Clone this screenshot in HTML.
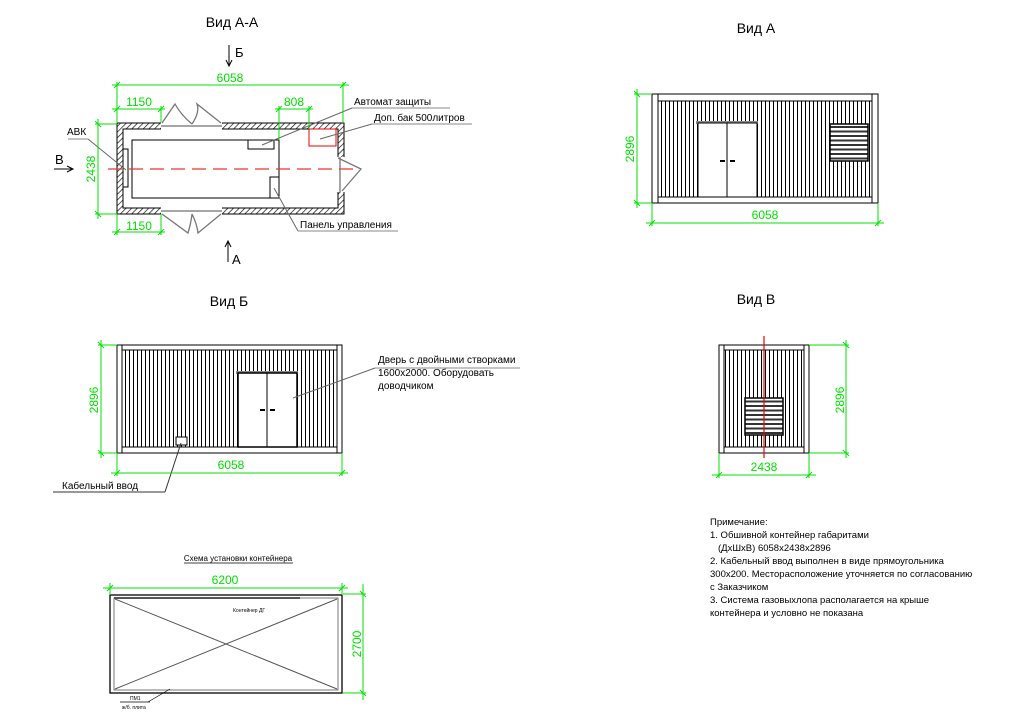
<!DOCTYPE html>
<html><head><meta charset="utf-8"><style>
html,body{margin:0;padding:0;background:#fff}
svg{display:block}
text{font-family:"Liberation Sans","DejaVu Sans",sans-serif}
.g{stroke:#00e000;stroke-width:1;fill:none}
.gt{fill:#00e000;font-size:12px}
.k{stroke:#000;fill:none;stroke-width:1}
.lb{font-size:10px;fill:#000}
</style></head><body>
<svg width="1015" height="720" viewBox="0 0 1015 720" xmlns="http://www.w3.org/2000/svg">
<defs>
<pattern id="vl" width="4" height="10" patternUnits="userSpaceOnUse"><line x1="1.5" y1="0" x2="1.5" y2="10" stroke="#000" stroke-width="1"/></pattern>
<pattern id="hat" width="4" height="4" patternUnits="userSpaceOnUse" patternTransform="rotate(45)"><line x1="0" y1="0" x2="0" y2="4" stroke="#000" stroke-width="1.3"/></pattern>
<pattern id="lv" width="10" height="4.5" patternUnits="userSpaceOnUse"><rect width="10" height="4.5" fill="#fff"/><rect width="10" height="2" fill="#333"/></pattern>
</defs>

<!-- ===== Вид А-А ===== -->
<text x="232" y="27" font-size="14" text-anchor="middle">Вид А-А</text>
<line x1="229" y1="45" x2="229" y2="65" class="k"/><path d="M226,60 L229,66 L232,60" class="k"/>
<text x="235" y="57" font-size="13">Б</text>
<line x1="228" y1="242" x2="228" y2="262" class="k"/><path d="M225,247 L228,241 L231,247" class="k"/>
<text x="232" y="264" font-size="13">А</text>
<text x="55" y="164" font-size="13">В</text>
<line x1="54" y1="169" x2="72" y2="169" class="k"/><path d="M67,166 L73,169 L67,172" class="k"/>

<path d="M117,123 H344 V214 H117 Z M123,129 V208 H338 V129 Z" fill="url(#hat)" fill-rule="evenodd" stroke="#000"/>
<rect x="161" y="121" width="61" height="9" fill="#fff"/>
<rect x="161" y="207" width="61" height="9" fill="#fff"/>
<rect x="337" y="157" width="9" height="35" fill="#fff"/>
<line x1="161" y1="126" x2="222" y2="126" stroke="#888" stroke-width="1.5"/>
<line x1="161" y1="211" x2="222" y2="211" stroke="#888" stroke-width="1.5"/>
<line x1="340" y1="157" x2="340" y2="192" stroke="#888" stroke-width="1.5"/>
<path d="M162,123 L175,104 Q181,115 192,124 M192,124 Q200,112 197,104 L221,123" stroke="#777" stroke-width="1.3" fill="none"/>
<path d="M162,214 L188,233 Q191,223 192,214 M192,214 Q197,224 198,233 L221,214" stroke="#777" stroke-width="1.3" fill="none"/>
<path d="M338,158 L361,169 L342,191" stroke="#777" stroke-width="1.3" fill="none"/>
<rect x="132" y="140" width="147" height="58" class="k" stroke-width="1.3"/>
<rect x="248" y="140" width="26" height="9" class="k"/>
<rect x="270" y="177" width="9" height="21" class="k"/>
<rect x="309" y="129" width="27" height="17" stroke="#e00" fill="none"/>
<rect x="123" y="149" width="5" height="38" class="k"/>
<line x1="108" y1="169" x2="353" y2="169" stroke="#e33" stroke-width="1.2" stroke-dasharray="14,7"/>
<line x1="68" y1="139" x2="88" y2="139" stroke="#888"/><line x1="88" y1="139" x2="126" y2="170" stroke="#666"/>
<text x="67" y="135" class="lb">АВК</text>
<line x1="262" y1="145" x2="352" y2="108" stroke="#666"/><line x1="352" y1="108" x2="450" y2="108" stroke="#888"/>
<text x="354" y="105" class="lb">Автомат защиты</text>
<line x1="320" y1="139" x2="372" y2="124" stroke="#666"/><line x1="372" y1="124" x2="472" y2="124" stroke="#888"/>
<text x="374" y="121" class="lb">Доп. бак 500литров</text>
<line x1="274" y1="188" x2="298" y2="231" stroke="#666"/><line x1="298" y1="231" x2="398" y2="231" stroke="#888"/>
<text x="300" y="228" class="lb">Панель управления</text>
<g class="g">
<line x1="112" y1="85" x2="349" y2="85"/><line x1="117" y1="82" x2="117" y2="123"/><line x1="343" y1="82" x2="343" y2="123"/>
<line x1="114" y1="88" x2="120" y2="82"/><line x1="340" y1="88" x2="346" y2="82"/>
<line x1="112" y1="109" x2="165" y2="109"/><line x1="161" y1="106" x2="161" y2="122"/>
<line x1="114" y1="112" x2="120" y2="106"/><line x1="158" y1="112" x2="164" y2="106"/>
<line x1="275" y1="109" x2="313" y2="109"/><line x1="279" y1="106" x2="279" y2="140"/><line x1="309" y1="106" x2="309" y2="129"/>
<line x1="276" y1="112" x2="282" y2="106"/><line x1="306" y1="112" x2="312" y2="106"/>
<line x1="98" y1="119" x2="98" y2="219"/><line x1="95" y1="124" x2="117" y2="124"/><line x1="95" y1="214" x2="117" y2="214"/>
<line x1="95" y1="121" x2="101" y2="127"/><line x1="95" y1="211" x2="101" y2="217"/>
<line x1="112" y1="232" x2="165" y2="232"/><line x1="117" y1="214" x2="117" y2="235"/><line x1="161" y1="214" x2="161" y2="235"/>
<line x1="114" y1="235" x2="120" y2="229"/><line x1="158" y1="235" x2="164" y2="229"/>
</g>
<text x="230" y="82" class="gt" text-anchor="middle">6058</text>
<text x="139" y="106" class="gt" text-anchor="middle">1150</text>
<text x="294" y="106" class="gt" text-anchor="middle">808</text>
<text x="139" y="230" class="gt" text-anchor="middle">1150</text>
<text transform="translate(95,169) rotate(-90)" class="gt" text-anchor="middle">2438</text>

<!-- ===== Вид А ===== -->
<text x="756" y="33" font-size="14" text-anchor="middle">Вид А</text>
<rect x="652" y="94" width="226" height="109" fill="url(#vl)" stroke="#000"/>
<rect x="652" y="94" width="226" height="7" fill="#fff" stroke="#000"/>
<rect x="652" y="197" width="226" height="6" fill="#fff" stroke="#000"/>
<rect x="652" y="94" width="6" height="109" fill="#fff" stroke="#000"/>
<rect x="872" y="94" width="6" height="109" fill="#fff" stroke="#000"/>
<rect x="696" y="121" width="62" height="3" fill="#888"/>
<rect x="698" y="123" width="59" height="74" fill="#fff" stroke="#000"/>
<line x1="727" y1="123" x2="727" y2="197" class="k"/>
<rect x="720" y="160" width="5" height="2" fill="#000"/><rect x="730" y="160" width="5" height="2" fill="#000"/>
<rect x="830" y="124" width="38" height="37" fill="url(#lv)" stroke="#000" stroke-width="1.5"/>
<g class="g">
<line x1="637" y1="89" x2="637" y2="208"/><line x1="634" y1="94" x2="652" y2="94"/><line x1="634" y1="203" x2="652" y2="203"/>
<line x1="634" y1="91" x2="640" y2="97"/><line x1="634" y1="200" x2="640" y2="206"/>
<line x1="646" y1="223" x2="884" y2="223"/><line x1="652" y1="203" x2="652" y2="226"/><line x1="878" y1="203" x2="878" y2="226"/>
<line x1="649" y1="226" x2="655" y2="220"/><line x1="875" y1="226" x2="881" y2="220"/>
</g>
<text transform="translate(634,149) rotate(-90)" class="gt" text-anchor="middle">2896</text>
<text x="765" y="219" class="gt" text-anchor="middle">6058</text>

<!-- ===== Вид Б ===== -->
<text x="229" y="306" font-size="14" text-anchor="middle">Вид Б</text>
<rect x="117" y="345" width="225" height="108" fill="url(#vl)" stroke="#000"/>
<rect x="117" y="345" width="225" height="5" fill="#fff" stroke="#000"/>
<rect x="117" y="447" width="225" height="6" fill="#fff" stroke="#000"/>
<rect x="117" y="345" width="5" height="108" fill="#fff" stroke="#000"/>
<rect x="337" y="345" width="5" height="108" fill="#fff" stroke="#000"/>
<rect x="236" y="371" width="62" height="3" fill="#888"/>
<rect x="238" y="373" width="59" height="74" fill="#fff" stroke="#000" stroke-width="1.5"/>
<line x1="267" y1="373" x2="267" y2="447" class="k"/>
<rect x="260" y="409" width="5" height="2" fill="#000"/><rect x="270" y="409" width="5" height="2" fill="#000"/>
<rect x="176" y="437" width="11" height="8" fill="#fff" stroke="#000"/>
<line x1="293" y1="398" x2="375" y2="368" stroke="#666"/><line x1="375" y1="368" x2="520" y2="368" stroke="#888"/>
<text x="378" y="363" class="lb">Дверь с двойными створками</text>
<text x="378" y="376" class="lb">1600х2000. Оборудовать</text>
<text x="378" y="389" class="lb">доводчиком</text>
<line x1="181" y1="443" x2="165" y2="492" stroke="#333"/><line x1="53" y1="492" x2="165" y2="492" stroke="#333"/>
<text x="62" y="489" class="lb">Кабельный ввод</text>
<g class="g">
<line x1="101" y1="340" x2="101" y2="458"/><line x1="98" y1="345" x2="117" y2="345"/><line x1="98" y1="453" x2="117" y2="453"/>
<line x1="98" y1="342" x2="104" y2="348"/><line x1="98" y1="450" x2="104" y2="456"/>
<line x1="111" y1="473" x2="348" y2="473"/><line x1="117" y1="453" x2="117" y2="476"/><line x1="342" y1="453" x2="342" y2="476"/>
<line x1="114" y1="476" x2="120" y2="470"/><line x1="339" y1="476" x2="345" y2="470"/>
</g>
<text transform="translate(98,400) rotate(-90)" class="gt" text-anchor="middle">2896</text>
<text x="231" y="469" class="gt" text-anchor="middle">6058</text>

<!-- ===== Вид В ===== -->
<text x="756" y="304" font-size="14" text-anchor="middle">Вид В</text>
<rect x="719" y="345" width="90" height="108" fill="url(#vl)" stroke="#000"/>
<rect x="719" y="345" width="90" height="5" fill="#fff" stroke="#000"/>
<rect x="719" y="447" width="90" height="6" fill="#fff" stroke="#000"/>
<rect x="719" y="345" width="5" height="108" fill="#fff" stroke="#000"/>
<rect x="804" y="345" width="5" height="108" fill="#fff" stroke="#000"/>
<rect x="745" y="398" width="38" height="37" fill="url(#lv)" stroke="#000" stroke-width="1.5"/>
<line x1="764" y1="336" x2="764" y2="458" stroke="#e00" stroke-width="1.2"/>
<g class="g">
<line x1="846" y1="340" x2="846" y2="458"/><line x1="809" y1="345" x2="849" y2="345"/><line x1="809" y1="453" x2="849" y2="453"/>
<line x1="843" y1="342" x2="849" y2="348"/><line x1="843" y1="450" x2="849" y2="456"/>
<line x1="712" y1="475" x2="816" y2="475"/><line x1="719" y1="453" x2="719" y2="478"/><line x1="809" y1="453" x2="809" y2="478"/>
<line x1="716" y1="478" x2="722" y2="472"/><line x1="806" y1="478" x2="812" y2="472"/>
</g>
<text transform="translate(844,400) rotate(-90)" class="gt" text-anchor="middle">2896</text>
<text x="764" y="471" class="gt" text-anchor="middle">2438</text>

<!-- ===== Схема ===== -->
<text x="238" y="561" font-size="8" text-anchor="middle">Схема установки контейнера</text>
<line x1="184" y1="563" x2="293" y2="563" stroke="#000" stroke-width="0.7"/>
<rect x="110" y="595" width="232" height="98" fill="none" stroke="#000" stroke-width="1.3"/>
<rect x="114" y="598" width="224" height="92" fill="none" stroke="#555" stroke-width="0.8"/>
<line x1="114" y1="598" x2="300" y2="598" stroke="#555" stroke-width="2"/>
<line x1="115" y1="599" x2="337" y2="689" stroke="#555" stroke-width="1"/>
<line x1="115" y1="689" x2="337" y2="599" stroke="#555" stroke-width="1"/>
<text x="233" y="612" font-size="5">Контейнер ДГ</text>
<line x1="170" y1="689" x2="148" y2="702" stroke="#000" stroke-width="0.7"/>
<line x1="120" y1="702" x2="150" y2="702" stroke="#000" stroke-width="0.7"/>
<text x="130" y="700" font-size="5">ПМ1</text>
<text x="122" y="709" font-size="5">ж/б. плита</text>
<g class="g">
<line x1="103" y1="588" x2="348" y2="588"/><line x1="110" y1="583" x2="110" y2="595"/><line x1="342" y1="583" x2="342" y2="595"/>
<line x1="107" y1="591" x2="113" y2="585"/><line x1="339" y1="591" x2="345" y2="585"/>
<line x1="363" y1="584" x2="363" y2="700"/><line x1="343" y1="594" x2="366" y2="594"/><line x1="343" y1="693" x2="366" y2="693"/>
<line x1="360" y1="591" x2="366" y2="597"/><line x1="360" y1="690" x2="366" y2="696"/>
</g>
<text x="225" y="584" class="gt" text-anchor="middle">6200</text>
<text transform="translate(361,644) rotate(-90)" class="gt" text-anchor="middle">2700</text>

<!-- ===== Примечание ===== -->
<g font-size="9.5" fill="#000">
<text x="710" y="525">Примечание:</text>
<text x="710" y="538">1. Обшивной контейнер габаритами</text>
<text x="718" y="551">(ДхШхВ) 6058х2438х2896</text>
<text x="710" y="564">2. Кабельный ввод выполнен в виде прямоугольника</text>
<text x="710" y="577">300х200. Месторасположение уточняется по согласованию</text>
<text x="710" y="590">с Заказчиком</text>
<text x="710" y="603">3. Система газовыхлопа располагается на крыше</text>
<text x="710" y="616">контейнера и условно не показана</text>
</g>
</svg>
</body></html>
